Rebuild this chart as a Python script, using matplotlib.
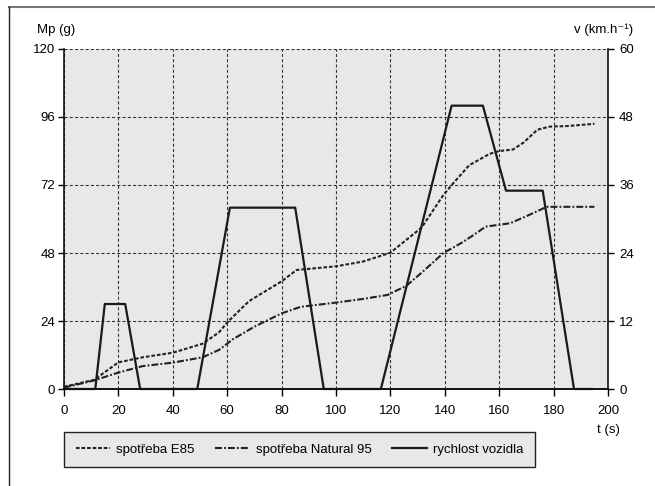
import matplotlib
matplotlib.use("Agg")
import matplotlib.pyplot as plt
from matplotlib.lines import Line2D

plt.rcParams['font.family'] = ['Liberation Sans', 'DejaVu Sans']
plt.rcParams['font.size'] = 9.5
plt.rcParams['lines.scale_dashes'] = False

# Fuel consumption (g) over the driving cycle
time_e85 = [0, 11, 20, 29, 40, 51, 57, 60, 68, 80, 85.5, 100, 110, 120, 131.5,
            139.5, 143, 149, 156.5, 160, 165, 169, 174, 178.5, 185, 195]
mass_e85 = [0.8, 3.2, 9.4, 11.2, 12.8, 16, 20, 23.5, 31, 38, 42, 43.3, 45, 48.1, 57,
            68.5, 72.5, 79, 83, 84, 84.5, 87, 91.5, 92.6, 92.8, 93.6]

time_n95 = [0, 11, 20, 29, 40, 51, 57, 62, 70, 80, 87, 100, 110, 119, 126, 132,
            139.5, 146, 150.5, 155, 164, 170, 177.5, 185, 195]
mass_n95 = [0.5, 3, 5.8, 8.1, 9.3, 11.2, 13.8, 17.5, 22, 26.7, 29, 30.5, 31.8, 33.2,
            36.5, 41.5, 48, 51.5, 54.3, 57.3, 58.5, 61, 64.3, 64.3, 64.3]

# Vehicle speed (km/h)
time_speed = [0, 11.5, 15, 22.5, 28, 49, 61, 85, 95.5, 116.5, 142.5, 154, 162.5,
              176, 187.5, 194]
speed = [0, 0, 15, 15, 0, 0, 32, 32, 0, 0, 50, 50, 35, 35, 0, 0]

x_ticks = list(range(0, 201, 20))
mass_ticks = [0, 24, 48, 72, 96, 120]
speed_ticks = [0, 12, 24, 36, 48, 60]

labels = ['spotřeba E85', 'spotřeba Natural 95', 'rychlost vozidla']

fig = plt.figure(figsize=(6.55, 4.86), dpi=100)
W, H = 655, 486

# outer frame (top and left edges)
fig.add_artist(Line2D([9 / W, 1], [1 - 7 / H, 1 - 7 / H], color='#777777', lw=1.5,
                      transform=fig.transFigure))
fig.add_artist(Line2D([9 / W, 9 / W], [0, 1 - 7 / H], color='#222222', lw=1.0,
                      transform=fig.transFigure))

ax = fig.add_axes([64 / W, 1 - 389 / H, 544 / W, 340 / H])
ax.set_facecolor('#e8e8e8')
ax.set_xlim(0, 200)
ax.set_ylim(0, 120)
ax.set_xticks(x_ticks)
ax.set_yticks(mass_ticks)
ax.grid(True, color='#333333', lw=0.8, linestyle=(0, (2.2, 1.6)))
ax.set_axisbelow(True)

ax2 = ax.twinx()
ax2.set_ylim(0, 60)
ax2.set_yticks(speed_ticks)

for a in (ax, ax2):
    a.spines['top'].set_visible(False)
    for s in a.spines.values():
        s.set_linewidth(1.2)
        s.set_color('#111111')
ax2.spines['left'].set_visible(False)
ax.spines['right'].set_visible(False)

ax.tick_params(axis='x', direction='out', length=5, width=1, pad=6.5)
ax.tick_params(axis='y', direction='out', length=4.5, width=1, pad=2)
ax2.tick_params(axis='y', direction='out', length=4.5, width=1, pad=3.5)

l1, = ax.plot(time_e85, mass_e85, color='#222222', lw=1.5, linestyle=(0, (2.6, 1.4)))
l2, = ax.plot(time_n95, mass_n95, color='#222222', lw=1.5,
              linestyle=(0, (5.0, 1.5, 1.3, 1.5)))
l3, = ax2.plot(time_speed, speed, color='#1a1a1a', lw=1.6, clip_on=False)

fig.text(37 / W, 1 - 33 / H, 'Mp (g)', ha='left', va='baseline')
fig.text(633 / W, 1 - 33 / H, 'v (km.h⁻¹)', ha='right', va='baseline')
fig.text(608 / W, 1 - 433 / H, 't (s)', ha='center', va='baseline')

leg = fig.legend([l1, l2, l3], labels, loc='upper left',
                 bbox_to_anchor=(64 / W, 1 - 432 / H), ncol=3, frameon=True,
                 fancybox=False, edgecolor='#222222', facecolor='#e8e8e8',
                 framealpha=1, borderaxespad=0, handlelength=2.6,
                 handletextpad=0.45, columnspacing=1.6, borderpad=0.88)
leg.get_frame().set_linewidth(1.0)

fig.savefig('out.png', dpi=100)
